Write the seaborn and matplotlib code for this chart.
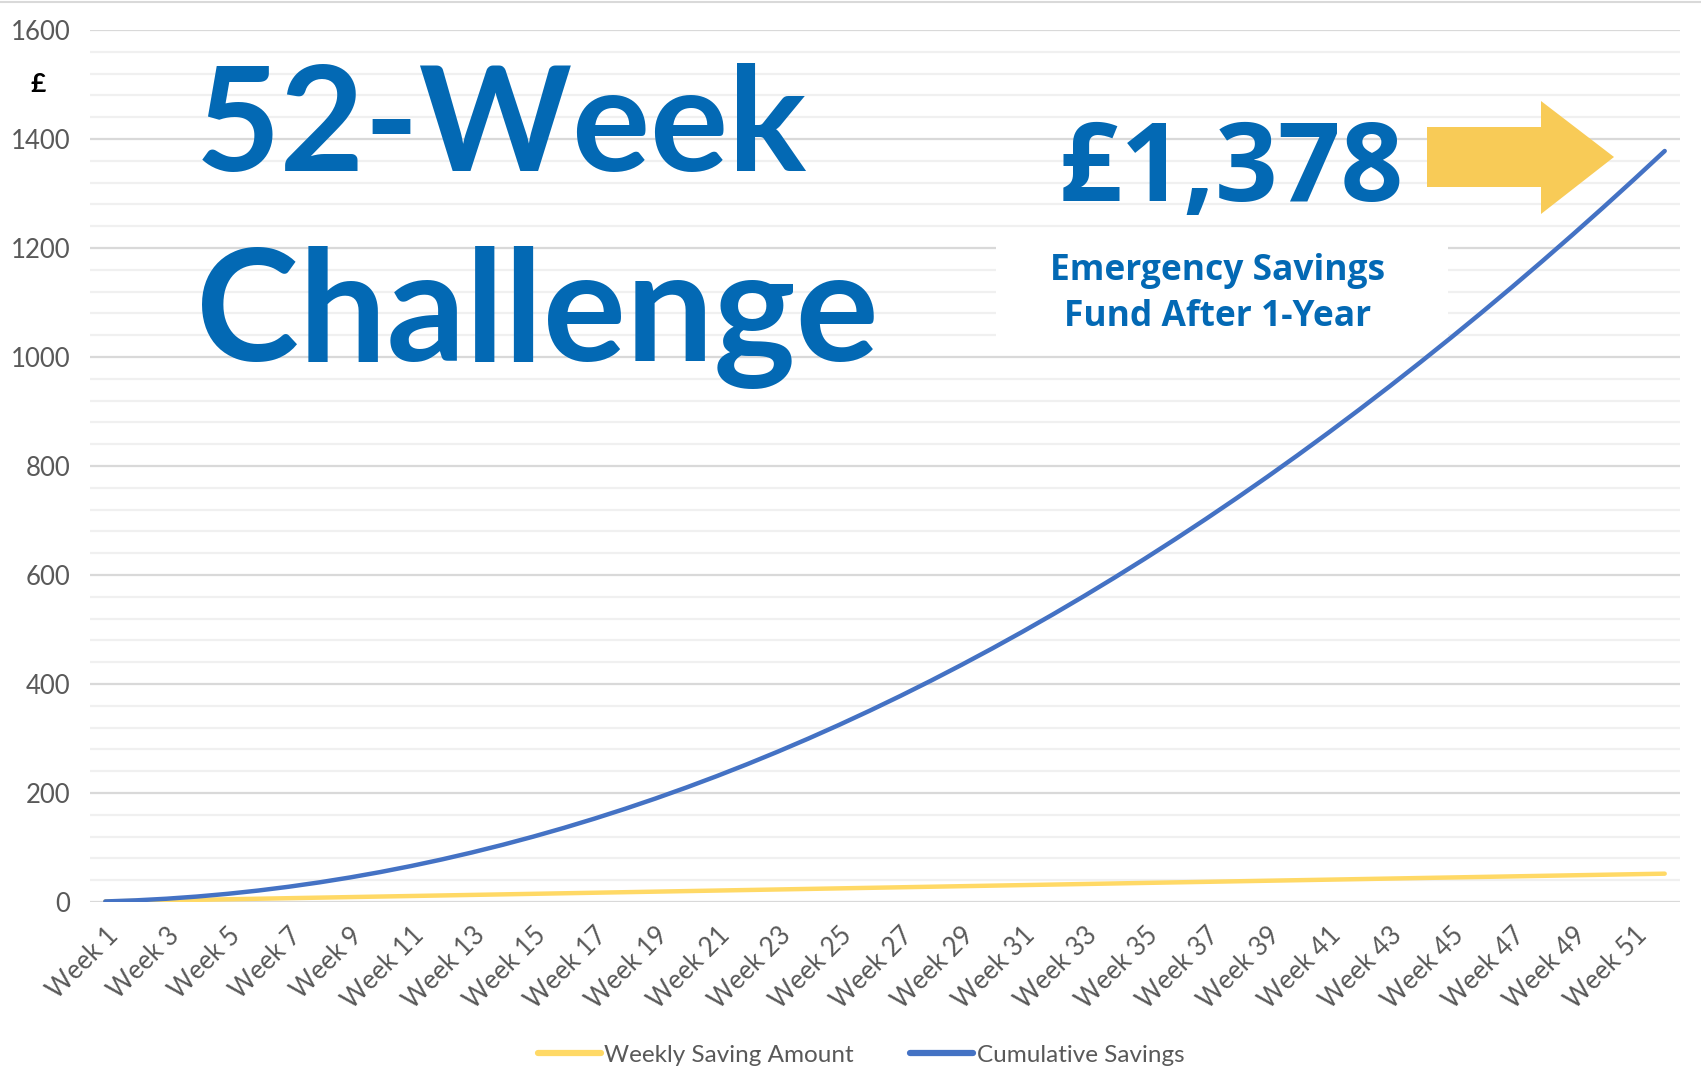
import numpy as np
import pandas as pd
import seaborn as sns
import matplotlib.pyplot as plt
from matplotlib.patches import Polygon, Rectangle
from matplotlib.lines import Line2D
from matplotlib.ticker import MultipleLocator

# data
weeks = ["Week %d" % i for i in range(1, 53)]
weekly = [1, 2, 3, 4, 5, 6, 7, 8, 9, 10, 11, 12, 13, 14, 15, 16, 17, 18, 19, 20,
          21, 22, 23, 24, 25, 26, 27, 28, 29, 30, 31, 32, 33, 34, 35, 36, 37, 38, 39, 40,
          41, 42, 43, 44, 45, 46, 47, 48, 49, 50, 51, 52]
cumulative = [1, 3, 6, 10, 15, 21, 28, 36, 45, 55, 66, 78, 91, 105, 120, 136, 153, 171,
              190, 210, 231, 253, 276, 300, 325, 351, 378, 406, 435, 465, 496, 528, 561,
              595, 630, 666, 703, 741, 780, 820, 861, 903, 946, 990, 1035, 1081, 1128,
              1176, 1225, 1275, 1326, 1378]
series_names = ["Weekly Saving Amount", "Cumulative Savings"]

df = pd.DataFrame({
    "pos": list(range(len(weeks))) * 2,
    "value": weekly + cumulative,
    "series": [series_names[0]] * len(weeks) + [series_names[1]] * len(weeks),
})

sns.set_theme(style="white")
plt.rcParams['font.family'] = ['Lato', 'DejaVu Sans']

W, H = 1701, 1090
fig = plt.figure(figsize=(W / 100, H / 100), dpi=100)
ax = fig.add_axes([90 / W, 1 - 902 / H, (1680 - 90) / W, (902 - 30) / H])

def fx(x):
    return x / W

def fy(y):
    return 1 - y / H

blue = "#4472C4"
gold = "#FFD966"
textblue = "#0369B4"

sns.lineplot(data=df, x="pos", y="value", hue="series", sort=False,
             palette={series_names[0]: gold, series_names[1]: blue},
             linewidth=3.2, ax=ax, zorder=3, legend=False)

ax.set_xlim(-0.5, len(weeks) - 0.5)
ax.set_ylim(0, 1600)
ax.yaxis.set_major_locator(MultipleLocator(200))
ax.yaxis.set_minor_locator(MultipleLocator(40))
ax.set_xticks(range(0, len(weeks), 2))
ax.set_xticklabels(weeks[::2], rotation=45, ha="right", rotation_mode="anchor")
ax.grid(which="major", axis="y", color="#D9D9D9", lw=1.6, zorder=0)
ax.grid(which="minor", axis="y", color="#F0F0F0", lw=1.6, zorder=0)
ax.grid(which="major", axis="x", visible=False)
ax.set_axisbelow(True)
for s in ax.spines.values():
    s.set_visible(False)
ax.tick_params(axis="both", which="both", length=0, labelsize=18.5, labelcolor="#595959")
ax.tick_params(axis="y", pad=14)
ax.tick_params(axis="x", pad=15)
ax.set_xlabel("")
ax.set_ylabel("")

# white panel behind the subtitle
ax.add_patch(Rectangle((fx(996), fy(348)), fx(1448) - fx(996), fy(246) - fy(348),
                       transform=fig.transFigure, facecolor="white", edgecolor="none",
                       zorder=1.5))

# arrow
arrow = Polygon([(fx(1427), fy(127)), (fx(1541), fy(127)), (fx(1541), fy(101)),
                 (fx(1614), fy(157)), (fx(1541), fy(214)), (fx(1541), fy(187)),
                 (fx(1427), fy(187))], closed=True, transform=fig.transFigure,
                facecolor="#F8CB57", edgecolor="none", zorder=2.5)
ax.add_patch(arrow)

fig.text(fx(196), fy(171), "52-Week", fontsize=105, fontweight="bold", color=textblue,
         ha="left", va="baseline")
fig.text(fx(196), fy(361), "Challenge", fontsize=112, fontweight="bold", color=textblue,
         ha="left", va="baseline")
fig.text(fx(1059), fy(201), "£1,378", fontsize=79, fontweight="bold", color=textblue,
         ha="left", va="baseline", family=["Open Sans", "DejaVu Sans"])
fig.text(fx(1218), fy(280), "Emergency Savings", fontsize=25.5, fontweight="bold",
         color=textblue, ha="center", va="baseline", family=["Open Sans", "DejaVu Sans"])
fig.text(fx(1218), fy(326), "Fund After 1-Year", fontsize=25.5, fontweight="bold",
         color=textblue, ha="center", va="baseline", family=["Open Sans", "DejaVu Sans"])
fig.text(fx(38), fy(84), "£", fontsize=19, fontweight="bold", color="black",
         ha="center", va="center")

fig.add_artist(Line2D([0, 1], [fy(1.5), fy(1.5)], transform=fig.transFigure,
                      color="#D9D9D9", lw=1.5))

# legend
handles = [Line2D([], [], color=gold, lw=4.5, solid_capstyle="round"),
           Line2D([], [], color=blue, lw=4.5, solid_capstyle="round")]
fig.legend(handles, series_names, loc="center", bbox_to_anchor=(fx(861), fy(1055)),
           ncol=2, frameon=False, fontsize=17.5, handlelength=2.6, handletextpad=0.15,
           columnspacing=2.3, labelcolor="#595959")

fig.savefig("out.png", dpi=100)
